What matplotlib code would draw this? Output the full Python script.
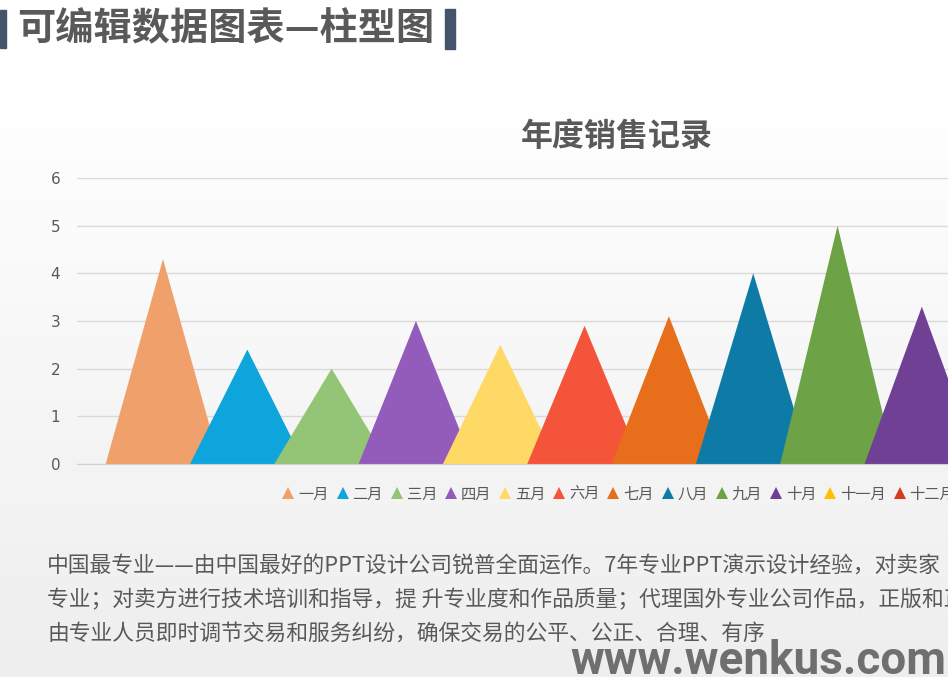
import numpy as np
import matplotlib
matplotlib.use("Agg")
import matplotlib.pyplot as plt
from matplotlib.lines import Line2D

OUTPUT_FILE = "out.png"
FIGURE_SIZE = (9.48, 6.77)
DPI = 100

MONTHS = ["一月", "二月", "三月", "四月", "五月", "六月",
          "七月", "八月", "九月", "十月", "十一月", "十二月"]
SALES = [4.3, 2.4, 2.0, 3.0, 2.5, 2.9, 3.1, 4.0, 5.0, 3.3, 3.6, 2.2]
COLORS = ["#F0A06A", "#0EA5DD", "#94C576", "#935CBA", "#FFD966", "#F4553A",
          "#E76E1A", "#0D7BA6", "#6DA346", "#704094", "#FFC000", "#D43B1F"]
Y_TICKS = [0, 1, 2, 3, 4, 5, 6]

HEADER = "可编辑数据图表—柱型图"
CHART_TITLE = "年度销售记录"
PARAGRAPH = [
    "中国最专业——由中国最好的PPT设计公司锐普全面运作。7年专业PPT演示设计经验，对卖家",
    "专业；对卖方进行技术培训和指导，提 升专业度和作品质量；代理国外专业公司作品，正版和正",
    "由专业人员即时调节交易和服务纠纷，确保交易的公平、公正、合理、有序",
]
WATERMARK = "www.wenkus.com"

TEXT_GREY = "#595959"
HALF_WIDTH = 0.68


def run():
    plt.rcParams["font.family"] = ["Noto Sans CJK SC", "DejaVu Sans"]
    fig = plt.figure(figsize=FIGURE_SIZE, dpi=DPI)

    __draw_background(fig)
    __draw_header(fig)
    __draw_chart(fig)
    __draw_texts(fig)

    fig.savefig(OUTPUT_FILE, dpi=DPI)


def __px(x, y):
    # pixel position -> figure fraction
    return x / 948, 1 - y / 677


def __draw_background(fig):
    bg = fig.add_axes([0, 0, 1, 1], zorder=-10)
    rows = np.linspace(0, 1, 677)
    shade = np.where(rows < 60 / 677, 1.0,
                     1.0 - 0.07 * (rows - 60 / 677) / (1 - 60 / 677))
    img = np.repeat(shade[:, None], 2, axis=1)
    bg.imshow(img, cmap="gray", vmin=0, vmax=1, aspect="auto",
              extent=[0, 1, 0, 1])
    bg.set_axis_off()


def __draw_header(fig):
    deco = fig.add_axes([0, 0, 1, 1], zorder=-5)
    deco.set_xlim(0, 948)
    deco.set_ylim(677, 0)
    deco.set_axis_off()
    deco.add_patch(plt.Rectangle((0, 10), 6, 38, color="#44546A"))
    deco.add_patch(plt.Rectangle((445, 9), 10, 40, color="#44546A"))

    x, y = __px(17, 29)
    fig.text(x, y, HEADER, fontsize=27.5, fontweight="bold", color=TEXT_GREY,
             va="center", ha="left")


def __draw_chart(fig):
    left, bottom = __px(77, 464)
    _, top = __px(0, 178)
    ax = fig.add_axes([left, bottom, 1 - left, top - bottom])
    ax.set_facecolor("none")

    for i, (value, color) in enumerate(zip(SALES, COLORS)):
        ax.fill([i - HALF_WIDTH, i, i + HALF_WIDTH], [0, value, 0],
                color=color, linewidth=0, zorder=3 + i)

    ax.set_xlim(-1.02, 9.31)
    ax.set_ylim(0, 6)
    ax.set_yticks(Y_TICKS)
    ax.set_yticklabels([str(t) for t in Y_TICKS], family="DejaVu Sans")
    ax.set_xticks([])
    ax.tick_params(axis="y", length=0, pad=12, labelsize=11,
                   labelcolor=TEXT_GREY)
    ax.grid(axis="y", color="#D9D9D9", linewidth=1, zorder=0)
    for side in ["top", "right", "left"]:
        ax.spines[side].set_visible(False)
    ax.spines["bottom"].set_color("#D0D0D0")
    ax.spines["bottom"].set_zorder(20)

    x, y = __px(617, 137)
    fig.text(x, y, CHART_TITLE, fontsize=23, fontweight="bold",
             color=TEXT_GREY, ha="center", va="center")

    handles = [Line2D([], [], linestyle="none", marker="^", markersize=8,
                      markerfacecolor=c, markeredgewidth=0) for c in COLORS]
    x, y = __px(283, 494)
    fig.legend(handles, MONTHS, ncol=12, loc="center left",
               bbox_to_anchor=(x, y), frameon=False, fontsize=11,
               labelcolor=TEXT_GREY, handlelength=0.7, handletextpad=0.3,
               columnspacing=0.55, borderpad=0, borderaxespad=0)


def __draw_texts(fig):
    for line, y_px in zip(PARAGRAPH, [566, 600, 634]):
        x, y = __px(47, y_px)
        fig.text(x, y, line, fontsize=15.7, color=TEXT_GREY,
                 ha="left", va="center")

    x, y = __px(570, 674)
    fig.text(x, y, WATERMARK, fontsize=33, fontweight="bold",
             family="Roboto", color="#6F6F6F", ha="left", va="baseline")


if __name__ == "__main__":
    run()
